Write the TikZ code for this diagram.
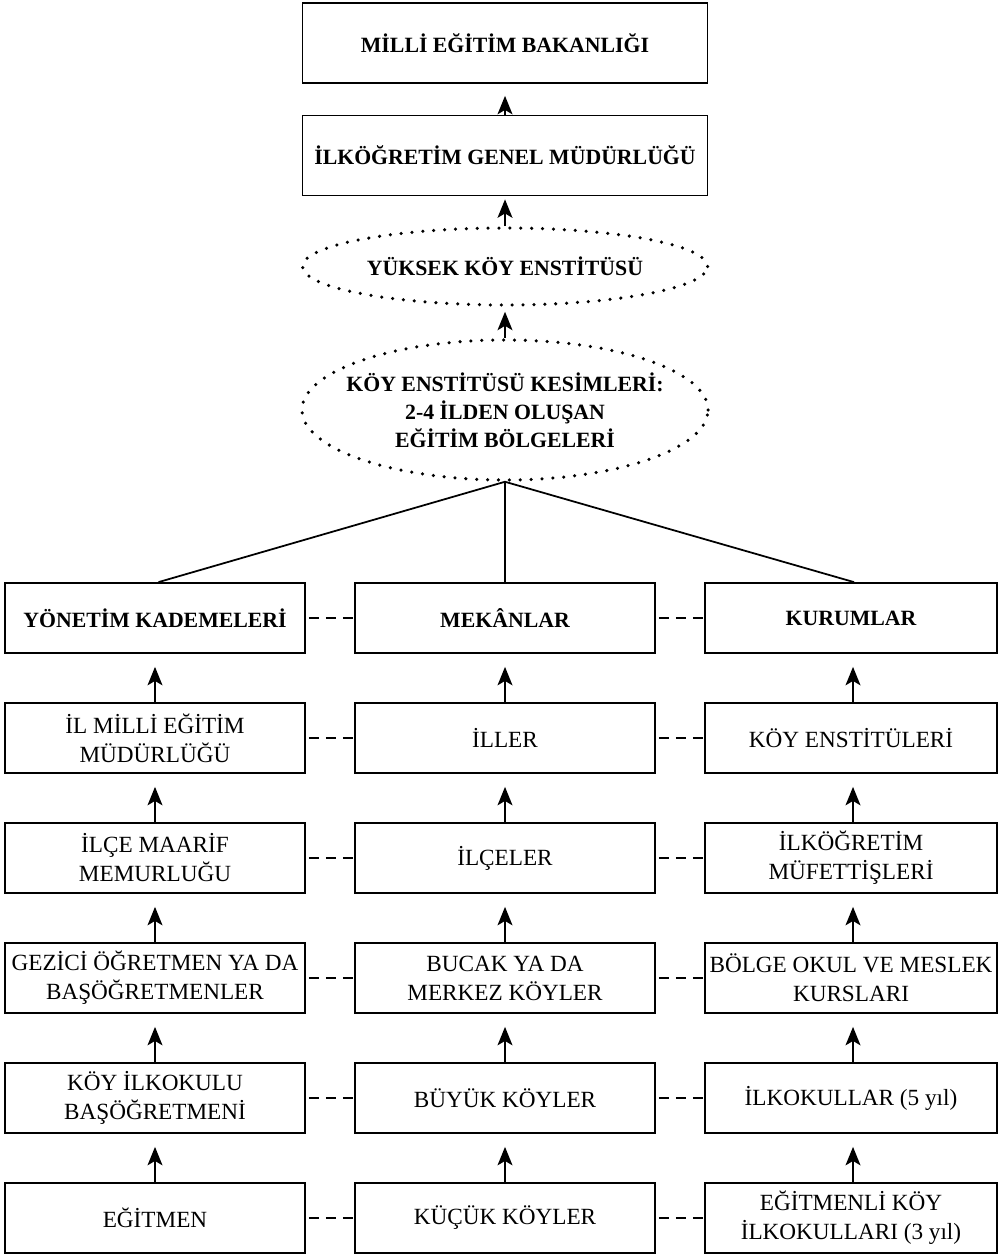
\documentclass[tikz,border=0pt]{standalone}
\usepackage{fontspec}
\setmainfont{Liberation Serif}
\usetikzlibrary{arrows.meta,shapes.geometric}

\tikzset{
    box/.style={draw, line width=1pt, minimum width=6cm, minimum height=1.4cm,
        align=center, inner sep=1pt, font=\fontsize{13.2}{16.5}\selectfont},
    headbox/.style={box, font=\bfseries\fontsize{12.4}{15}\selectfont},
    topbox/.style={headbox, minimum width=8.1cm, minimum height=1.6cm},
    oval/.style={ellipse, draw, line width=2pt, dash pattern=on 0pt off 6.2pt,
        line cap=round, align=center, inner xsep=-9pt, inner ysep=0pt,
        font=\bfseries\fontsize{12.4}{16}\selectfont},
    up/.style={-{Stealth[length=10.5pt,width=8.5pt,inset=2.5pt]}, line width=1pt},
    link/.style={line width=1.15pt, dash pattern=on 5.7pt off 4pt, dash phase=8pt},
    fan/.style={line width=1pt}
}

\begin{document}
\begin{tikzpicture}
\useasboundingbox (0,0) rectangle (19.98,-25.12);

% top of the hierarchy
\node[topbox] (MEB) at (10.1,-0.86) {MİLLİ EĞİTİM BAKANLIĞI};
\node[topbox] (IGM) at (10.1,-3.11) {İLKÖĞRETİM GENEL MÜDÜRLÜĞÜ};
\node[oval, minimum width=8.1cm, minimum height=1.54cm] (YKE) at (10.1,-5.33) {YÜKSEK KÖY ENSTİTÜSÜ};
\node[oval, minimum width=8.12cm, minimum height=2.8cm] (KEK) at (10.1,-8.2)
    {KÖY ENSTİTÜSÜ KESİMLERİ:\\2-4 İLDEN OLUŞAN\\EĞİTİM BÖLGELERİ};

\draw[up, shorten >=0.24cm] (IGM) -- (MEB);
\draw[up, shorten >=0.06cm] (YKE) -- (IGM);
\draw[up, shorten >=0.1cm] (KEK) -- (YKE);

% columns: yonetim (L), mekan (M), kurum (K)
\node[headbox] (L1) at (3.1,-12.36) {YÖNETİM KADEMELERİ};
\node[headbox] (M1) at (10.1,-12.36) {MEKÂNLAR};
\node[headbox, minimum width=5.84cm] (K1) at (17.02,-12.36) {KURUMLAR};

\node[box] (L2) at (3.1,-14.76) {İL MİLLİ EĞİTİM\\MÜDÜRLÜĞÜ};
\node[box] (M2) at (10.1,-14.76) {İLLER};
\node[box, minimum width=5.84cm] (K2) at (17.02,-14.76) {KÖY ENSTİTÜLERİ};

\node[box] (L3) at (3.1,-17.16) {İLÇE MAARİF\\MEMURLUĞU};
\node[box] (M3) at (10.1,-17.16) {İLÇELER};
\node[box, minimum width=5.84cm] (K3) at (17.02,-17.16) {İLKÖĞRETİM\\MÜFETTİŞLERİ};

\node[box] (L4) at (3.1,-19.56) {GEZİCİ ÖĞRETMEN YA DA\\BAŞÖĞRETMENLER};
\node[box] (M4) at (10.1,-19.56) {BUCAK YA DA\\MERKEZ KÖYLER};
\node[box, minimum width=5.84cm] (K4) at (17.02,-19.56) {BÖLGE OKUL VE MESLEK\\KURSLARI};

\node[box] (L5) at (3.1,-21.96) {KÖY İLKOKULU\\BAŞÖĞRETMENİ};
\node[box] (M5) at (10.1,-21.96) {BÜYÜK KÖYLER};
\node[box, minimum width=5.84cm] (K5) at (17.02,-21.96) {İLKOKULLAR (5 yıl)};

\node[box] (L6) at (3.1,-24.36) {EĞİTMEN};
\node[box] (M6) at (10.1,-24.36) {KÜÇÜK KÖYLER};
\node[box, minimum width=5.84cm] (K6) at (17.02,-24.36) {EĞİTMENLİ KÖY\\İLKOKULLARI (3 yıl)};

% fan out of the regions
\draw[fan] (KEK.south) -- ([xshift=0.07cm]L1.north);
\draw[fan] (KEK.south) -- (M1.north);
\draw[fan] (KEK.south) -- ([xshift=0.06cm]K1.north);

% arrows up each column, dashed links across each row
\foreach \i [evaluate=\i as \j using int(\i-1)] in {2,...,6} {
    \draw[up, shorten >=0.26cm] (L\i) -- (L\j);
    \draw[up, shorten >=0.26cm] (M\i) -- (M\j);
    \draw[up, shorten >=0.26cm] ([xshift=0.04cm]K\i.north) -- ([xshift=0.04cm]K\j.south);
}
\foreach \i in {1,...,6} {
    \draw[link] (L\i) -- (M\i);
    \draw[link] (M\i) -- (K\i);
}
\end{tikzpicture}
\end{document}
